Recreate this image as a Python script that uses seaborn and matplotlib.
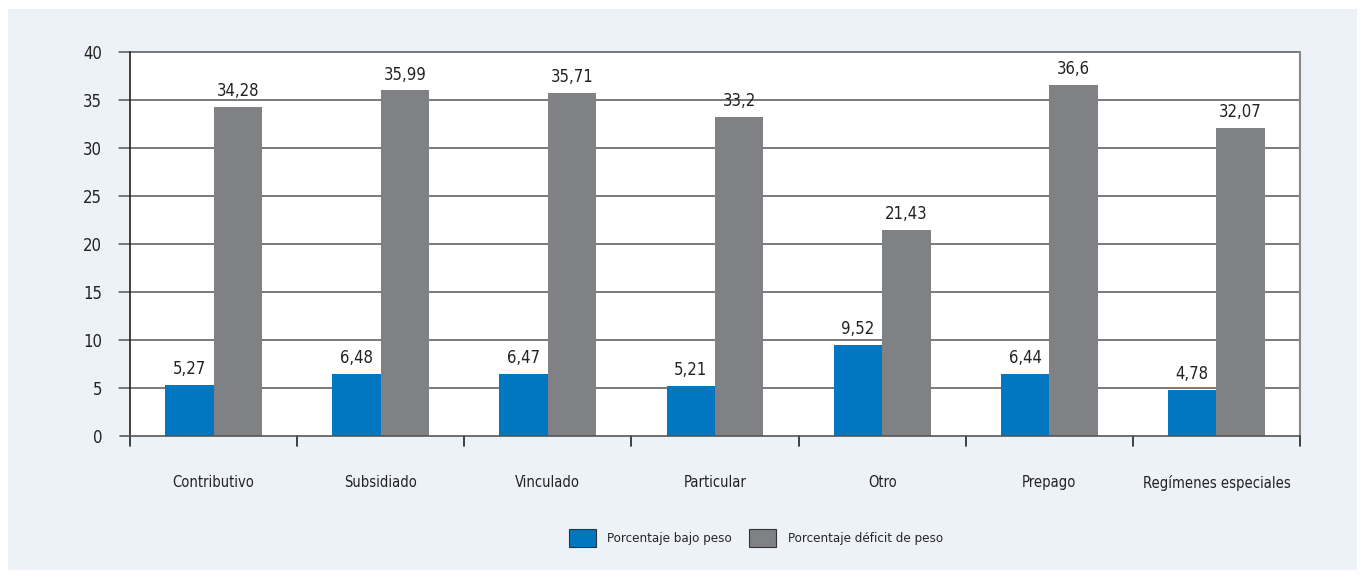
import matplotlib
matplotlib.use("Agg")
import matplotlib.pyplot as plt
import seaborn as sns
import pandas as pd
from matplotlib.patches import Rectangle, Patch
from matplotlib import font_manager as fm

categories = ["Contributivo", "Subsidiado", "Vinculado", "Particular", "Otro", "Prepago", "Regímenes especiales"]
bajo_peso = [5.27, 6.48, 6.47, 5.21, 9.52, 6.44, 4.78]
deficit_peso = [34.28, 35.99, 35.71, 33.2, 21.43, 36.6, 32.07]
series_names = ["Porcentaje bajo peso", "Porcentaje déficit de peso"]
yticks = [0, 5, 10, 15, 20, 25, 30, 35, 40]

df = pd.DataFrame({
    "cat": categories * 2,
    "serie": [series_names[0]] * len(categories) + [series_names[1]] * len(categories),
    "valor": bajo_peso + deficit_peso,
})

sns.set_theme(style="white")
names = {f.name for f in fm.fontManager.ttflist}
fam = ["Liberation Sans Narrow"] if "Liberation Sans Narrow" in names else []
plt.rcParams["font.family"] = fam + ["DejaVu Sans"]
plt.rcParams["font.stretch"] = "condensed"

fig = plt.figure(figsize=(13.65, 5.79), dpi=100)
fig.patch.set_facecolor("white")
fig.patches.append(Rectangle((8 / 1365, 9 / 579), 1349 / 1365, 561 / 579,
                             transform=fig.transFigure, facecolor="#EDF1F8",
                             edgecolor="none", zorder=-10))
ax = fig.add_axes([130 / 1365, 1 - 436 / 579, 1170 / 1365, 384 / 579])
ax.set_facecolor("white")

colors = ["#0077C0", "#808184"]
sns.barplot(data=df, x="cat", y="valor", hue="serie", palette=colors,
            width=0.58, gap=0, saturation=1, ax=ax, legend=False, zorder=3,
            linewidth=0)

for cont in ax.containers:
    labels = [("%g" % v.get_height()).replace(".", ",") for v in cont]
    ax.bar_label(cont, labels=labels, padding=5, fontsize=12, color="#222222")

ax.set_ylim(0, 40)
ax.set_xlim(-0.5, len(categories) - 0.5)
ax.set_yticks(yticks)
ax.set_yticklabels([str(t) for t in yticks], fontsize=12, color="#222222")
for t in yticks[1:]:
    ax.axhline(t, color="#555555", lw=1.1, zorder=1, xmin=-0.009, clip_on=False)
ax.tick_params(axis="y", length=0, pad=20)
ax.set_xticks(range(len(categories)))
ax.set_xticklabels(categories, fontsize=10.5, color="#222222")
ax.tick_params(axis="x", length=0, pad=28)
for b in range(len(categories) + 1):
    ax.plot([b - 0.5, b - 0.5], [0, -1.0], color="#222222", lw=1.2, clip_on=False, zorder=4)
ax.plot([-0.5 - 0.06, len(categories) - 0.5], [0, 0], color="#555555", lw=1.2, clip_on=False, zorder=4)
ax.set_xlabel("")
ax.set_ylabel("")
for s in ["top", "bottom"]:
    ax.spines[s].set_visible(False)
ax.spines["left"].set_color("#222222")
ax.spines["left"].set_linewidth(1.2)
ax.spines["right"].set_color("#888888")
ax.spines["right"].set_linewidth(1.5)

handles = [Patch(facecolor=colors[0], edgecolor="#333333", lw=0.8),
           Patch(facecolor=colors[1], edgecolor="#333333", lw=0.8)]
fig.legend(handles, series_names, loc="center", bbox_to_anchor=(756 / 1365, 1 - 538 / 579),
           ncol=2, frameon=False, fontsize=9.5, handlelength=2.0, handleheight=1.7,
           handletextpad=0.9, columnspacing=1.3)

fig.savefig("out.png", dpi=100, facecolor=fig.get_facecolor())
